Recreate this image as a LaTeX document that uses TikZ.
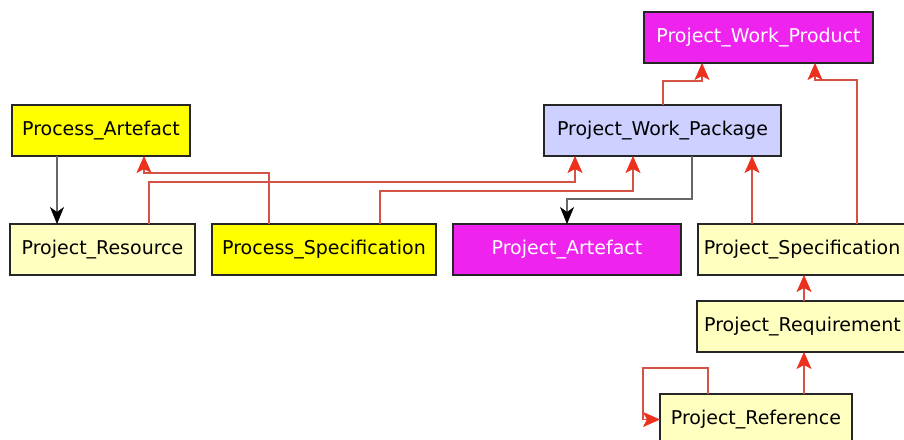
\documentclass[tikz,border=0pt]{standalone}
\usepackage{fontspec}
\setmainfont{DejaVu Sans}
\usepackage{xcolor}
\usetikzlibrary{arrows.meta,positioning}

\definecolor{procyellow}{RGB}{255,255,0}
\definecolor{projyellow}{RGB}{255,255,192}
\definecolor{prodmagenta}{RGB}{238,36,238}
\definecolor{pkglavender}{RGB}{206,208,255}
\definecolor{linkred}{RGB}{212,82,70}
\definecolor{tipred}{RGB}{236,48,30}

\begin{document}
\begin{tikzpicture}[x=1pt,y=-1pt]

\tikzstyle{block} = [draw=black!85, line width=1.3pt, rectangle, minimum height=51pt, inner sep=0pt, outer sep=0pt, font=\fontsize{19}{23}\selectfont]
\tikzstyle{assoc} = [draw=black!60, line width=1.3pt, -{Stealth[length=17pt,width=14pt,inset=5pt,color=black,fill=black,line width=0.6pt]}]
\tikzstyle{isa} = [draw=linkred, line width=1.2pt, -{Stealth[length=17pt,width=15pt,inset=4pt,color=tipred,fill=tipred,line width=0.6pt]}]

\useasboundingbox (0,0) rectangle (904,439);
\clip (0,0) rectangle (904,439);

\node [block, fill=procyellow, minimum width=178pt] (pa) at (101,130.5) {Process\_Artefact};
\node [block, fill=projyellow, minimum width=185pt] (res) at (102.5,249.5) {Project\_Resource};
\node [block, fill=procyellow, minimum width=224pt, right = 17pt of res] (spec) {Process\_Specification};
\node [block, fill=prodmagenta, text=white, minimum width=228pt, right = 17pt of spec] (art) {Project\_Artefact};
\node [block, fill=projyellow, minimum width=208pt, right = 17pt of art] (pspec) {Project\_Specification};
\node [block, fill=projyellow, minimum width=211pt, below = 26pt of pspec, xshift=0.5pt] (req) {Project\_Requirement};
\node [block, fill=projyellow, minimum width=192pt] (ref) at (756,419.5) {Project\_Reference};
\node [block, fill=pkglavender, minimum width=237pt] (wp) at (662.5,130.5) {Project\_Work\_Package};
\node [block, fill=prodmagenta, text=white, minimum width=229pt] (wprod) at (758.5,37.5) {Project\_Work\_Product};

% associations
\draw [assoc] ([xshift=-44pt]pa.south) coordinate (a1) -- (a1 |- res.north);
\draw [assoc] ([xshift=29.5pt]wp.south) -- ++(0,43) -| (art.north);

% generalisations
\draw [isa] ([xshift=-55pt]spec.north) -- ++(0,-51) -| ([xshift=43pt]pa.south);
\draw [isa] ([xshift=46.5pt]res.north) -- ++(0,-42) -| ([xshift=-87.5pt]wp.south);
\draw [isa] ([xshift=56pt]spec.north) -- ++(0,-33) -| ([xshift=-29.5pt]wp.south);
\draw [isa, line width=2.6pt] ([xshift=0.5pt]wp.north) -- ++(0,-24) -| ([xshift=-56.5pt]wprod.south);
\draw [isa] ([xshift=-50pt]pspec.north) coordinate (g1) -- (g1 |- wp.south);
\draw [isa] ([xshift=55pt]pspec.north) -- ++(0,-144) -| ([xshift=56.5pt]wprod.south);
\draw [isa] ([xshift=1.5pt]req.north) coordinate (g2) -- (g2 |- pspec.south);
\draw [isa] ([xshift=48pt]ref.north) coordinate (g3) -- (g3 |- req.south);
\draw [isa] ([xshift=-48pt]ref.north) -- ++(0,-26) -- ++(-65,0) |- (ref.west);

\end{tikzpicture}
\end{document}
